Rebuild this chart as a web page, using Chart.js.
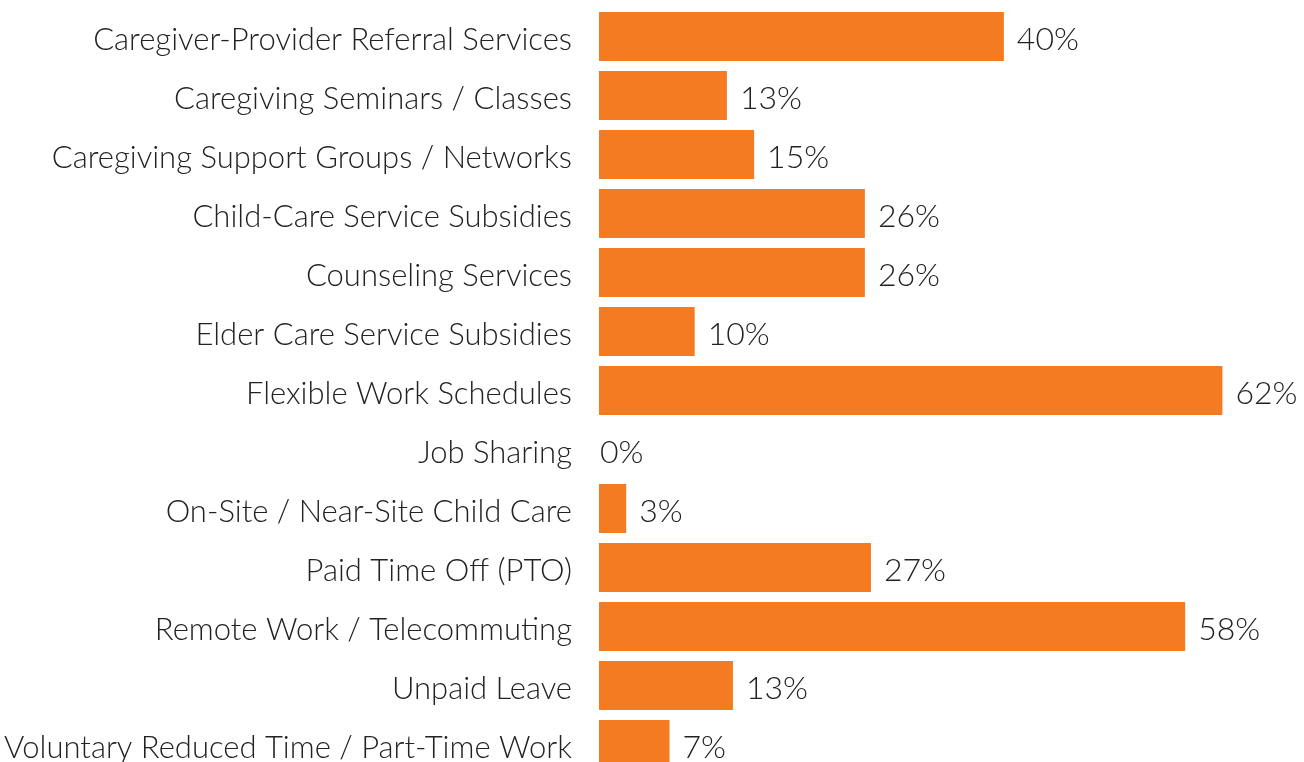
<!DOCTYPE html>
<html>
<head>
<meta charset="utf-8">
<script src="https://cdn.jsdelivr.net/npm/chart.js@4/dist/chart.umd.min.js"></script>
<style>
    html, body { margin: 0; padding: 0; background: #fff; overflow: hidden; }
    #wrap { width: 1304px; height: 774px; }
</style>
</head>
<body>
<div id="wrap"><canvas id="chart"></canvas></div>
<script>
const categories = [
    `Caregiver-Provider Referral Services`,
    `Caregiving Seminars / Classes`,
    `Caregiving Support Groups / Networks`,
    `Child-Care Service Subsidies`,
    `Counseling Services`,
    `Elder Care Service Subsidies`,
    `Flexible Work Schedules`,
    `Job Sharing`,
    `On-Site / Near-Site Child Care`,
    `Paid Time Off (PTO)`,
    `Remote Work / Telecommuting`,
    `Unpaid Leave`,
    `Voluntary Reduced Time / Part-Time Work`
];
const shares = [40.2, 12.7, 15.4, 26.4, 26.4, 9.5, 61.9, 0, 2.7, 27.0, 58.2, 13.3, 7.0];

const fontFamily = `Lato, "Noto Sans", sans-serif`;
const textColor = `#222222`;
const barColor = `#F47B22`;

// draws the "40%" labels past the end of each bar
const valueLabels = {
    id: `valueLabels`,
    afterDatasetsDraw(chart) {
        const ctx = chart.ctx;
        const meta = chart.getDatasetMeta(0);
        ctx.save();
        ctx.font = `300 32px ${fontFamily}`;
        ctx.fillStyle = textColor;
        ctx.textAlign = `left`;
        ctx.textBaseline = `middle`;
        meta.data.forEach((bar, i) => {
            const v = shares[i];
            const gap = v > 0 ? 13 : 1;
            ctx.fillText(Math.round(v) + `%`, bar.x + gap, bar.y + 3);
        });
        ctx.restore();
    }
};

new Chart(document.getElementById(`chart`), {
    type: `bar`,
    data: {
        labels: categories,
        datasets: [{
            data: shares,
            backgroundColor: barColor,
            borderWidth: 0,
            barPercentage: 0.83,
            categoryPercentage: 1
        }]
    },
    options: {
        indexAxis: `y`,
        responsive: true,
        maintainAspectRatio: false,
        animation: false,
        layout: { padding: { top: 7, bottom: 0, left: 0, right: 0 } },
        plugins: {
            legend: { display: false },
            tooltip: { enabled: false }
        },
        scales: {
            x: {
                display: false,
                min: 0,
                max: 70
            },
            y: {
                grid: { display: false, drawTicks: false },
                border: { display: false },
                afterFit(scale) {
                    scale.width = 599;
                    scale.paddingTop = 0;
                    scale.paddingBottom = 0;
                },
                ticks: {
                    padding: 27,
                    color: textColor,
                    labelOffset: 3,
                    font: { family: fontFamily, size: 31, weight: 300 }
                }
            }
        }
    },
    plugins: [valueLabels]
});
</script>
</body>
</html>
